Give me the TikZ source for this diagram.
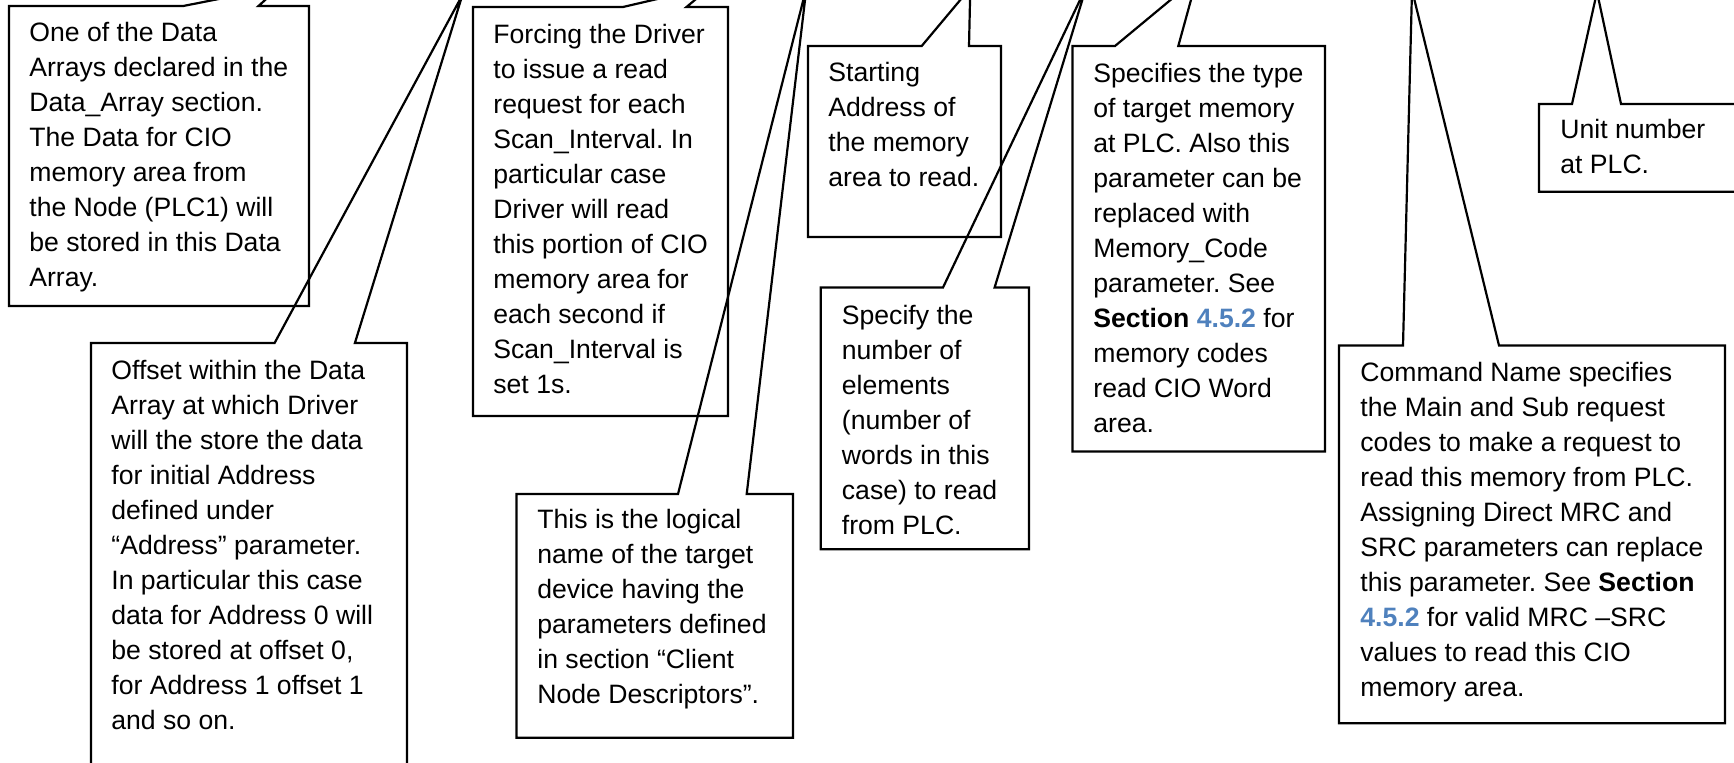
\documentclass[tikz,border=0pt]{standalone}
\usepackage{fontspec}
\setmainfont{Liberation Sans}
\frenchspacing
\definecolor{secblue}{RGB}{79,129,189}
\tikzset{
  cl/.style={draw=black, line width=1.1pt, line join=miter},
  txt/.style={anchor=base west, inner sep=0pt, font=\fontsize{13.3}{17.5}\selectfont\frenchspacing}
}
% #1 left, #2 top, #3 right, #4 bottom, #5 gap left, #6 gap right, #7 apex name
\newcommand\calloutbox[7]{%
  \draw[cl] (#5,#2) -- (#7) -- (#6,#2) -- (#3,#2) -- (#3,#4) -- (#1,#4) -- (#1,#2) -- cycle;}
\newcommand\txtlines[1]{\parbox[t]{250pt}{\raggedright\frenchspacing #1}}
\begin{document}
\begin{tikzpicture}[x=0.5pt,y=-0.5pt]
\useasboundingbox (0,0) rectangle (1734,763);
\clip (0,0) rectangle (1734,763);
% apex coordinates (outside the visible area, above the top edge)
\coordinate (a1) at (279.5,-13);
\coordinate (a2) at (462.4,-5);
\coordinate (a3) at (711,-13.5);
\coordinate (a4) at (806.5,-12.6);
\coordinate (a5) at (970.3,-12);
\coordinate (a6) at (1086.4,-13.4);
\coordinate (a7) at (1197,-22);
\coordinate (a8) at (1412,-10);
\coordinate (a9) at (1597,-8);
% callout outlines
\calloutbox{9}{6}{309}{306}{183.3}{258.5}{a1}
\calloutbox{91}{343}{407}{790}{274.6}{354.9}{a2}
\calloutbox{473}{7}{728}{416}{623}{686.5}{a3}
\calloutbox{516.5}{494}{793}{737.7}{678}{746.7}{a4}
\calloutbox{808}{46}{1001}{237}{921.7}{969}{a5}
\calloutbox{820.7}{287.5}{1029}{549.3}{943}{994.6}{a6}
\calloutbox{1072.5}{46}{1325}{451.5}{1115}{1178.3}{a7}
\calloutbox{1339}{345.5}{1725}{723.3}{1403}{1499}{a8}
\calloutbox{1539}{104}{1760}{191.7}{1572}{1621}{a9}
% texts
\node[txt] (t1) at (29,42) {\txtlines{One of the Data\\Arrays declared in the\\Data\_Array section.\\The Data for CIO\\memory area from\\the Node (PLC1) will\\be stored in this Data\\Array.}};
\node[txt] (t2) at (111,380) {\txtlines{Offset within the Data\\Array at which Driver\\will the store the data\\for initial Address\\defined under\\“Address” parameter.\\In particular this case\\data for Address 0 will\\be stored at offset 0,\\for Address 1 offset 1\\and so on.}};
\node[txt] (t3) at (493,44) {\txtlines{Forcing the Driver\\to issue a read\\request for each\\Scan\_Interval. In\\particular case\\Driver will read\\this portion of CIO\\memory area for\\each second if\\Scan\_Interval is\\set 1s.}};
\node[txt] (t4) at (537,528.5) {\txtlines{This is the logical\\name of the target\\device having the\\parameters defined\\in section “Client\\Node Descriptors”.}};
\node[txt] (t5) at (828,82) {\txtlines{Starting\\Address of\\the memory\\area to read.}};
\node[txt] (t6) at (841.5,324.5) {\txtlines{Specify the\\number of\\elements\\(number of\\words in this\\case) to read\\from PLC.}};
\node[txt] (t7) at (1093,83) {\txtlines{Specifies the type\\of target memory\\at PLC. Also this\\parameter can be\\replaced with\\Memory\_Code\\parameter. See\\\textbf{Section} \textcolor{secblue}{\textbf{4.5.2}} for\\memory codes\\read CIO Word\\area.}};
\node[txt] (t8) at (1360,382) {\txtlines{Command Name specifies\\the Main and Sub request\\codes to make a request to\\read this memory from PLC.\\Assigning Direct MRC and\\SRC parameters can replace\\this parameter. See \textbf{Section}\\\textcolor{secblue}{\textbf{4.5.2}} for valid MRC –SRC\\values to read this CIO\\memory area.}};
\node[txt] (t9) at (1560,138.5) {\txtlines{Unit number\\at PLC.}};
\end{tikzpicture}
\end{document}
